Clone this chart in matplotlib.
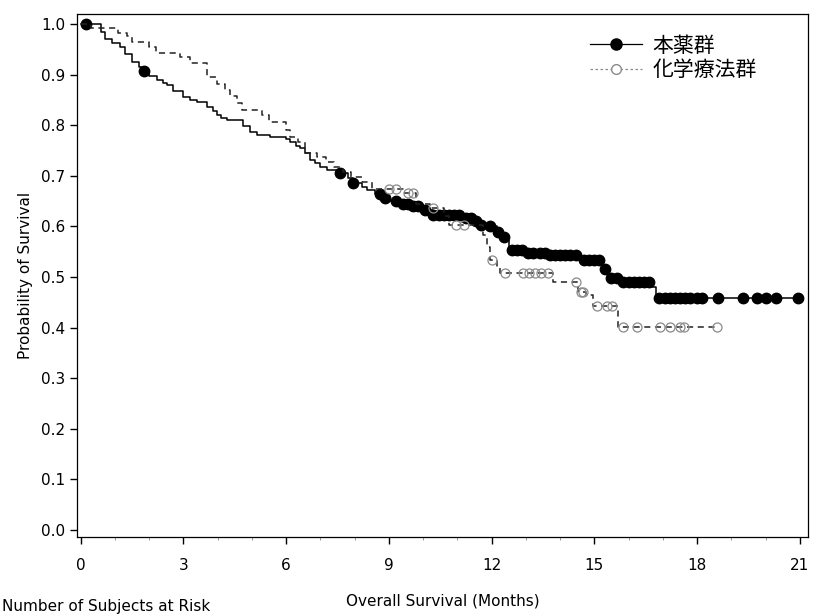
import numpy as np
import matplotlib.pyplot as plt
from matplotlib.lines import Line2D

plt.rcParams["font.family"] = ["DejaVu Sans", "Noto Sans CJK JP"]

# -----------------------------------
# Data
# -----------------------------------

# 本薬群: step times (months) and survival after each step
drug_times = [0, 0.6, 0.7, 0.9, 1.15, 1.3, 1.49, 1.7, 1.85, 2.0, 2.22, 2.4, 2.51,
              2.7, 2.99, 3.2, 3.39, 3.68, 3.85, 3.97, 4.1, 4.26, 4.74, 4.94, 5.15,
              5.53, 6.0, 6.11, 6.3, 6.4, 6.55, 6.69, 6.85, 6.99, 7.18, 7.5, 7.8,
              7.95, 8.2, 8.35, 8.6, 8.8, 9.0, 9.3, 9.7, 10.0, 10.3, 11.2, 11.5,
              11.66, 11.9, 12.15, 12.3, 12.45, 12.5, 13.0, 13.6, 14.6, 15.25,
              15.4, 15.8, 16.67, 16.8]
drug_surv = [1.0, 0.985, 0.97, 0.962, 0.955, 0.94, 0.925, 0.915, 0.907, 0.897,
             0.889, 0.883, 0.879, 0.868, 0.856, 0.85, 0.847, 0.837, 0.828, 0.82,
             0.815, 0.81, 0.798, 0.787, 0.78, 0.777, 0.772, 0.767, 0.76, 0.755,
             0.745, 0.731, 0.725, 0.718, 0.712, 0.705, 0.695, 0.685, 0.678, 0.672,
             0.665, 0.656, 0.65, 0.645, 0.64, 0.632, 0.623, 0.617, 0.61, 0.603,
             0.6, 0.589, 0.58, 0.573, 0.553, 0.547, 0.543, 0.533, 0.515, 0.498,
             0.49, 0.481, 0.458]
drug_end = 20.95
drug_censor = [0.15, 1.85, 7.57, 7.96, 8.74, 8.88, 9.2, 9.4, 9.55, 9.7, 9.85,
               10.05, 10.3, 10.45, 10.6, 10.75, 10.9, 11.05, 11.25, 11.4, 11.55,
               11.7, 11.95, 12.2, 12.35, 12.6, 12.75, 12.9, 13.05, 13.2, 13.4,
               13.55, 13.7, 13.85, 14.0, 14.15, 14.3, 14.45, 14.7, 14.85, 15.0,
               15.15, 15.3, 15.5, 15.65, 15.85, 16.0, 16.15, 16.3, 16.45, 16.6,
               16.9, 17.05, 17.2, 17.35, 17.5, 17.65, 17.8, 18.0, 18.15, 18.6,
               19.35, 19.75, 20.0, 20.3, 20.95]

# 化学療法群
chemo_times = [0, 0.3, 1.1, 1.35, 1.5, 2.0, 2.2, 2.9, 3.2, 3.7, 3.98, 4.2, 4.35,
               4.55, 4.7, 5.3, 5.5, 6.0, 6.1, 6.35, 6.55, 6.9, 7.15, 7.4, 7.65,
               7.9, 8.2, 8.5, 9.4, 9.8, 10.2, 10.6, 10.75, 11.75, 11.87, 11.95,
               12.15, 12.25, 13.8, 14.52, 14.75, 14.96, 15.7]
chemo_surv = [1.0, 0.992, 0.982, 0.976, 0.965, 0.955, 0.943, 0.935, 0.923,
              0.896, 0.881, 0.87, 0.857, 0.844, 0.83, 0.82, 0.807, 0.79, 0.777,
              0.767, 0.745, 0.738, 0.728, 0.718, 0.708, 0.698, 0.688, 0.674,
              0.667, 0.645, 0.636, 0.62, 0.603, 0.583, 0.56, 0.534, 0.52, 0.507,
              0.49, 0.47, 0.464, 0.442, 0.402]
chemo_end = 18.6
chemo_censor = [9.0, 9.2, 9.55, 9.7, 10.3, 10.95, 11.2, 12.0, 12.39, 12.92,
                13.1, 13.27, 13.45, 13.65, 14.45, 14.6, 14.68, 15.07, 15.36,
                15.51, 15.83, 16.24, 16.92, 17.21, 17.5, 17.62, 18.58]

group_labels = ["本薬群", "化学療法群"]
x_ticks = [0, 3, 6, 9, 12, 15, 18, 21]
y_ticks = [0.0, 0.1, 0.2, 0.3, 0.4, 0.5, 0.6, 0.7, 0.8, 0.9, 1.0]


def step_at(times, surv, t):
    idx = np.searchsorted(times, t, side="right") - 1
    return np.asarray(surv)[idx]


# -----------------------------------
# Plot
# -----------------------------------

fig = plt.figure(figsize=(8.16, 6.15), dpi=100)
ax = fig.add_axes([77 / 816, 1 - 537 / 615, 731 / 816, 523 / 615])

dash_color = "#222222"
circle_color = "#8a8a8a"

# 本薬群
ax.step(drug_times + [drug_end], drug_surv + [drug_surv[-1]], where="post",
        color="black", linewidth=1.1)
ax.plot(drug_censor, step_at(drug_times, drug_surv, drug_censor), "o",
        color="black", markersize=7.5, linestyle="none")

# 化学療法群
ax.step(chemo_times + [chemo_end], chemo_surv + [chemo_surv[-1]], where="post",
        color=dash_color, linewidth=1.1, linestyle=(0, (4, 3)))
ax.plot(chemo_censor, step_at(chemo_times, chemo_surv, chemo_censor), "o",
        markerfacecolor="none", markeredgecolor=circle_color,
        markeredgewidth=0.9, markersize=6.5, linestyle="none")

ax.set_xlim(-0.11, 21.24)
ax.set_ylim(-0.014, 1.02)
ax.set_xticks(x_ticks)
ax.set_xticks(np.arange(0, 22, 1), minor=True)
ax.set_yticks(y_ticks)
ax.set_yticklabels([f"{v:.1f}" for v in y_ticks])

ax.tick_params(axis="both", direction="out", length=5, width=1,
               labelsize=11, color="black")
ax.tick_params(axis="x", which="minor", direction="out", length=2, width=0.6,
               color="#888888")
ax.tick_params(axis="x", pad=10)

for spine in ax.spines.values():
    spine.set_linewidth(0.9)
    spine.set_color("black")

ax.set_ylabel("Probability of Survival", fontsize=11, labelpad=6)
fig.text(443 / 816, 1 - 601 / 615, "Overall Survival (Months)",
         ha="center", va="center", fontsize=11)
fig.text(2 / 816, 1 / 615, "Number of Subjects at Risk",
         ha="left", va="bottom", fontsize=11)

handles = [
    Line2D([], [], color="black", linewidth=0.9, marker="o", markersize=8,
           markerfacecolor="black", markeredgecolor="black"),
    Line2D([], [], color=circle_color, linewidth=0.9, linestyle=(0, (2, 2)),
           marker="o", markersize=7, markerfacecolor="white",
           markeredgecolor=circle_color),
]
ax.legend(handles, group_labels, loc="upper left",
          bbox_to_anchor=(571 / 816, 1 - 16 / 615),
          bbox_transform=fig.transFigure, frameon=False, handlelength=2.5,
          labelspacing=0.1, handletextpad=0.5,
          prop={"family": ["Noto Sans CJK JP"], "size": 15})

fig.savefig("out.png", dpi=100)
